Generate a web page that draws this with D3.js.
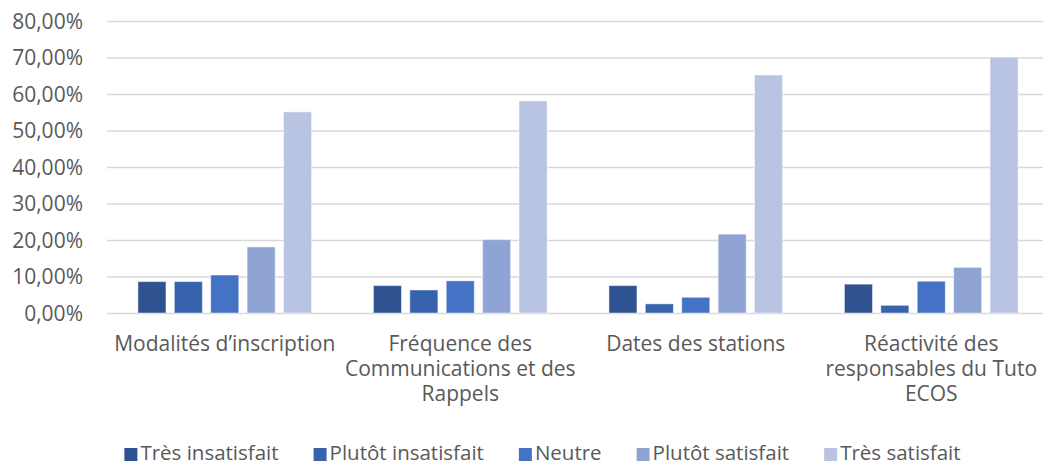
<!DOCTYPE html>
<html>
<head>
<meta charset="utf-8">
<script src="https://cdn.jsdelivr.net/npm/d3@7"></script>
<style>
  body { margin: 0; background: #fff; }
  svg text { font-family: "Open Sans", "Noto Sans", sans-serif; fill: #595959; }
</style>
</head>
<body>
<svg id="chart" width="1043" height="463"></svg>
<script>
const categories = [
    'Modalités d’inscription',
    'Fréquence des Communications et des Rappels',
    'Dates des stations',
    'Réactivité des responsables du Tuto ECOS'
]

// wrapped the way the original wraps them
const categoryLines = [
    ['Modalités d’inscription'],
    ['Fréquence des', 'Communications et des', 'Rappels'],
    ['Dates des stations'],
    ['Réactivité des', 'responsables du Tuto', 'ECOS']
]

const seriesNames = ['Très insatisfait', 'Plutôt insatisfait', 'Neutre', 'Plutôt satisfait', 'Très satisfait']
const seriesColors = ['#2f5390', '#3762ac', '#4472c4', '#8fa4d4', '#b9c3e2']

const tresInsatisfait = [8.6, 7.5, 7.5, 7.9]
const plutotInsatisfait = [8.6, 6.3, 2.5, 2.1]
const neutre = [10.4, 8.8, 4.3, 8.7]
const plutotSatisfait = [18.1, 20.1, 21.6, 12.5]
const tresSatisfait = [55.1, 58.1, 65.2, 70.1]

const yTicks = [0, 10, 20, 30, 40, 50, 60, 70, 80]

const seriesValues = [tresInsatisfait, plutotInsatisfait, neutre, plutotSatisfait, tresSatisfait]

const dimensions = { left: 107, right: 1049, top: 21, bottom: 313 }

const svg = d3.select('#chart')

const x0 = d3.scaleBand()
    .domain(categories)
    .range([dimensions.left, dimensions.right])

const x1 = d3.scaleBand()
    .domain(seriesNames)
    .range([0, x0.bandwidth()])
    .paddingInner(0.23)
    .paddingOuter(0.85)

const y = d3.scaleLinear()
    .domain([0, 80])
    .range([dimensions.bottom, dimensions.top])

const fmt = (v) => d3.format('.2f')(v).replace('.', ',') + '%'

// grid + y labels
const yAxis = d3.axisLeft(y)
    .tickValues(yTicks)
    .tickSize(-(dimensions.right - dimensions.left))
    .tickPadding(24)
    .tickFormat(fmt)

const yg = svg.append('g')
    .attr('transform', `translate(${dimensions.left},0)`)
    .call(yAxis)

yg.select('.domain').remove()
yg.selectAll('.tick line')
    .attr('stroke', '#d9d9d9')
    .attr('stroke-width', 1.3)
yg.selectAll('.tick text')
    .style('font-size', '21px')
    .attr('dy', '0.35em')

// bars
const groups = svg.append('g').selectAll('g')
    .data(categories)
    .enter().append('g')
    .attr('transform', (d) => `translate(${x0(d)},0)`)

groups.selectAll('rect')
    .data((d, i) => seriesNames.map((s, j) => ({ series: s, value: seriesValues[j][i], color: seriesColors[j] })))
    .enter().append('rect')
    .attr('x', (d) => x1(d.series))
    .attr('width', x1.bandwidth())
    .attr('y', (d) => y(d.value))
    .attr('height', (d) => y(0) - y(d.value))
    .attr('fill', (d) => d.color)
    .attr('stroke', '#ffffff')
    .attr('stroke-opacity', 0.45)
    .attr('stroke-width', 1)

// category labels
const catLabels = svg.append('g').selectAll('text')
    .data(categories)
    .enter().append('text')
    .attr('text-anchor', 'middle')
    .attr('x', (d) => x0(d) + x0.bandwidth() / 2)
    .attr('y', 351)
    .style('font-size', '21px')

catLabels.selectAll('tspan')
    .data((d, i) => categoryLines[i])
    .enter().append('tspan')
    .attr('x', function() { return d3.select(this.parentNode).attr('x') })
    .attr('dy', (d, i) => i === 0 ? 0 : 24.8)
    .text((d) => d)

// legend
const legend = svg.append('g')
const items = legend.selectAll('g')
    .data(seriesNames)
    .enter().append('g')

items.append('rect')
    .attr('width', 13)
    .attr('height', 13)
    .attr('y', -12)
    .attr('fill', (d, i) => seriesColors[i])

items.append('text')
    .attr('x', 16)
    .attr('y', 0)
    .style('font-size', '20.5px')
    .text((d) => d)

let cursor = 0
items.each(function() {
    const w = this.getBBox().width
    d3.select(this).attr('transform', `translate(${cursor},0)`)
    cursor += w + 35
})
cursor -= 35
legend.attr('transform', `translate(${(113 + 972) / 2 - cursor / 2},460)`)
</script>
</body>
</html>
